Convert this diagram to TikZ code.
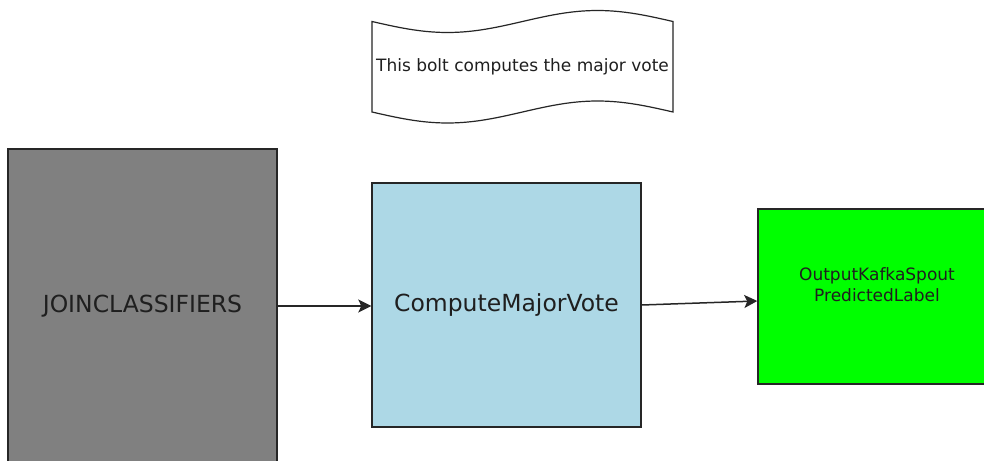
\documentclass[tikz,border=0pt]{standalone}
\usepackage{fontspec}
\setmainfont{DejaVu Sans}
\usetikzlibrary{arrows.meta,calc}
\definecolor{boltgray}{HTML}{808080}
\definecolor{boltblue}{HTML}{ADD8E6}
\definecolor{spoutgreen}{HTML}{00FF00}
\definecolor{edge}{HTML}{262626}
\tikzset{
  block/.style={draw=edge, line width=1.4pt, inner sep=0pt},
  bigtext/.style={font=\fontsize{23.5}{27}\selectfont, text=black!88},
  smalltext/.style={font=\fontsize{17}{21}\selectfont, text=black!88, align=center},
  flow/.style={draw=edge, line width=1.5pt, -{Stealth[length=13pt,width=13pt,inset=3pt]}},
  note/.style={draw=edge, line width=1.2pt, fill=white}
}
\begin{document}
\begin{tikzpicture}[x=1pt,y=-1pt]
  \useasboundingbox (0,0) rectangle (984,460);
  \clip (0,0) rectangle (984,460);
  \fill[white] (0,0) rectangle (984,460);

  % wavy comment shape
  \draw[note] (372,21.5) sin (447.5,32.5) cos (522.5,21.5) sin (597.5,10.5) cos (673,21.5)
    -- (673,112) sin (597.5,101) cos (522.5,112) sin (447.5,123) cos (372,112) -- cycle;
  \node[smalltext] (comment) at (522.5,67) {This bolt computes the major vote};

  % bolts and spout
  \node[block, fill=boltgray, minimum width=269pt, minimum height=314pt] (join) at (142.5,306) {};
  \node[bigtext] (joinlabel) at (join.center) {JOINCLASSIFIERS};

  \node[block, fill=boltblue, minimum width=269pt, minimum height=244pt] (vote) at (506.5,305) {};
  \node[bigtext] (votelabel) at (506.5,305) {ComputeMajorVote};

  \node[block, fill=spoutgreen, minimum width=238pt, minimum height=175pt] (spout) at (877,296.5) {};
  \node[smalltext] (spoutlabel) at (877,285) {OutputKafkaSpout\\PredictedLabel};

  % stream connections
  \draw[flow] (join.east) -- (join.east -| vote.west);
  \draw[flow] (vote.east) -- ($(spout.west)+(0,4.5)$);
\end{tikzpicture}
\end{document}
